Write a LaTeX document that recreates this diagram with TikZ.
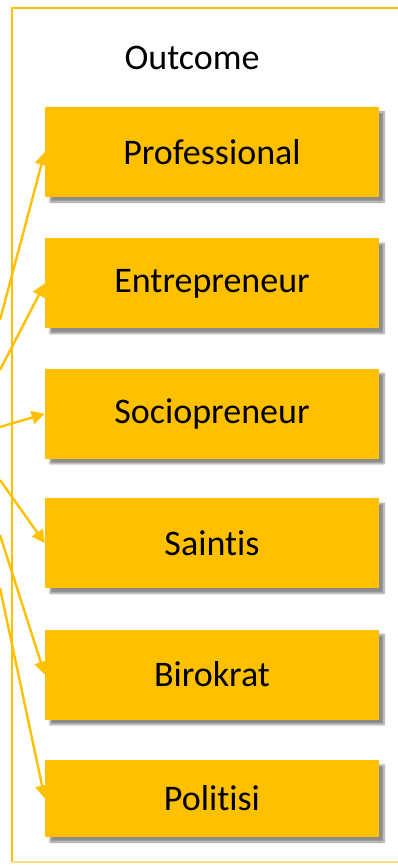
\documentclass[tikz,border=0pt]{standalone}
\usepackage{fontspec}
\setmainfont{Carlito}[Ligatures=NoCommon]
\usepackage{xcolor}
\definecolor{gold}{HTML}{FFC000}
\usetikzlibrary{
arrows.meta,
positioning,
shadows,
shadows.blur
}

\begin{document}
\begin{tikzpicture}[x=1pt,y=-1pt,
    outbox/.style={shape=rectangle, fill=gold, minimum width=334pt, minimum height=90pt, inner sep=0pt,
      font=\fontsize{36}{40}\selectfont,
      blur shadow={shadow xshift=5pt, shadow yshift=-5pt, shadow opacity=45, shadow blur steps=8, shadow blur extra rounding=0pt}},
    link/.style={draw=gold, line width=2.4pt, -{Triangle[length=13pt,width=13pt]}}]
    \useasboundingbox (0,0) rectangle (398,866);
    % frame
    \draw[gold, line width=2.4pt] (398,8) -- (12,8) -- (12,862);
    \draw[gold!50, line width=1.5pt] (12,862) -- (398,862);
    \node [font=\fontsize{36}{40}\selectfont] (title) at (192,58) {Outcome};
    \node [outbox] (prof) at (212,152) {Professional};
    \node [outbox, below = 41pt of prof] (entre) {Entrepreneur};
    \node [outbox, below = 40pt of entre] (socio) {Sociopreneur};
    \node [outbox, below = 39pt of socio] (saintis) {Saintis};
    \node [outbox, below = 41pt of saintis] (biro) {Birokrat};
    \node [outbox, minimum height=77pt, below = 40pt of biro] (politisi) {Politisi};
    % free ends at the left edge
    \coordinate (s1) at (0,320);
    \coordinate (s2) at (0,370);
    \coordinate (s3) at (0,427);
    \coordinate (s4) at (0,480);
    \coordinate (s5) at (0,535);
    \coordinate (s6) at (0,588);
    \draw[link] (s1) -- (prof.west);
    \draw[link] (s2) -- (entre.west);
    \draw[link] (s3) -- (socio.west);
    \draw[link] (s4) -- (saintis.west);
    \draw[link] (s5) -- (biro.west);
    \draw[link] (s6) -- (politisi.west);
\end{tikzpicture}
\end{document}
